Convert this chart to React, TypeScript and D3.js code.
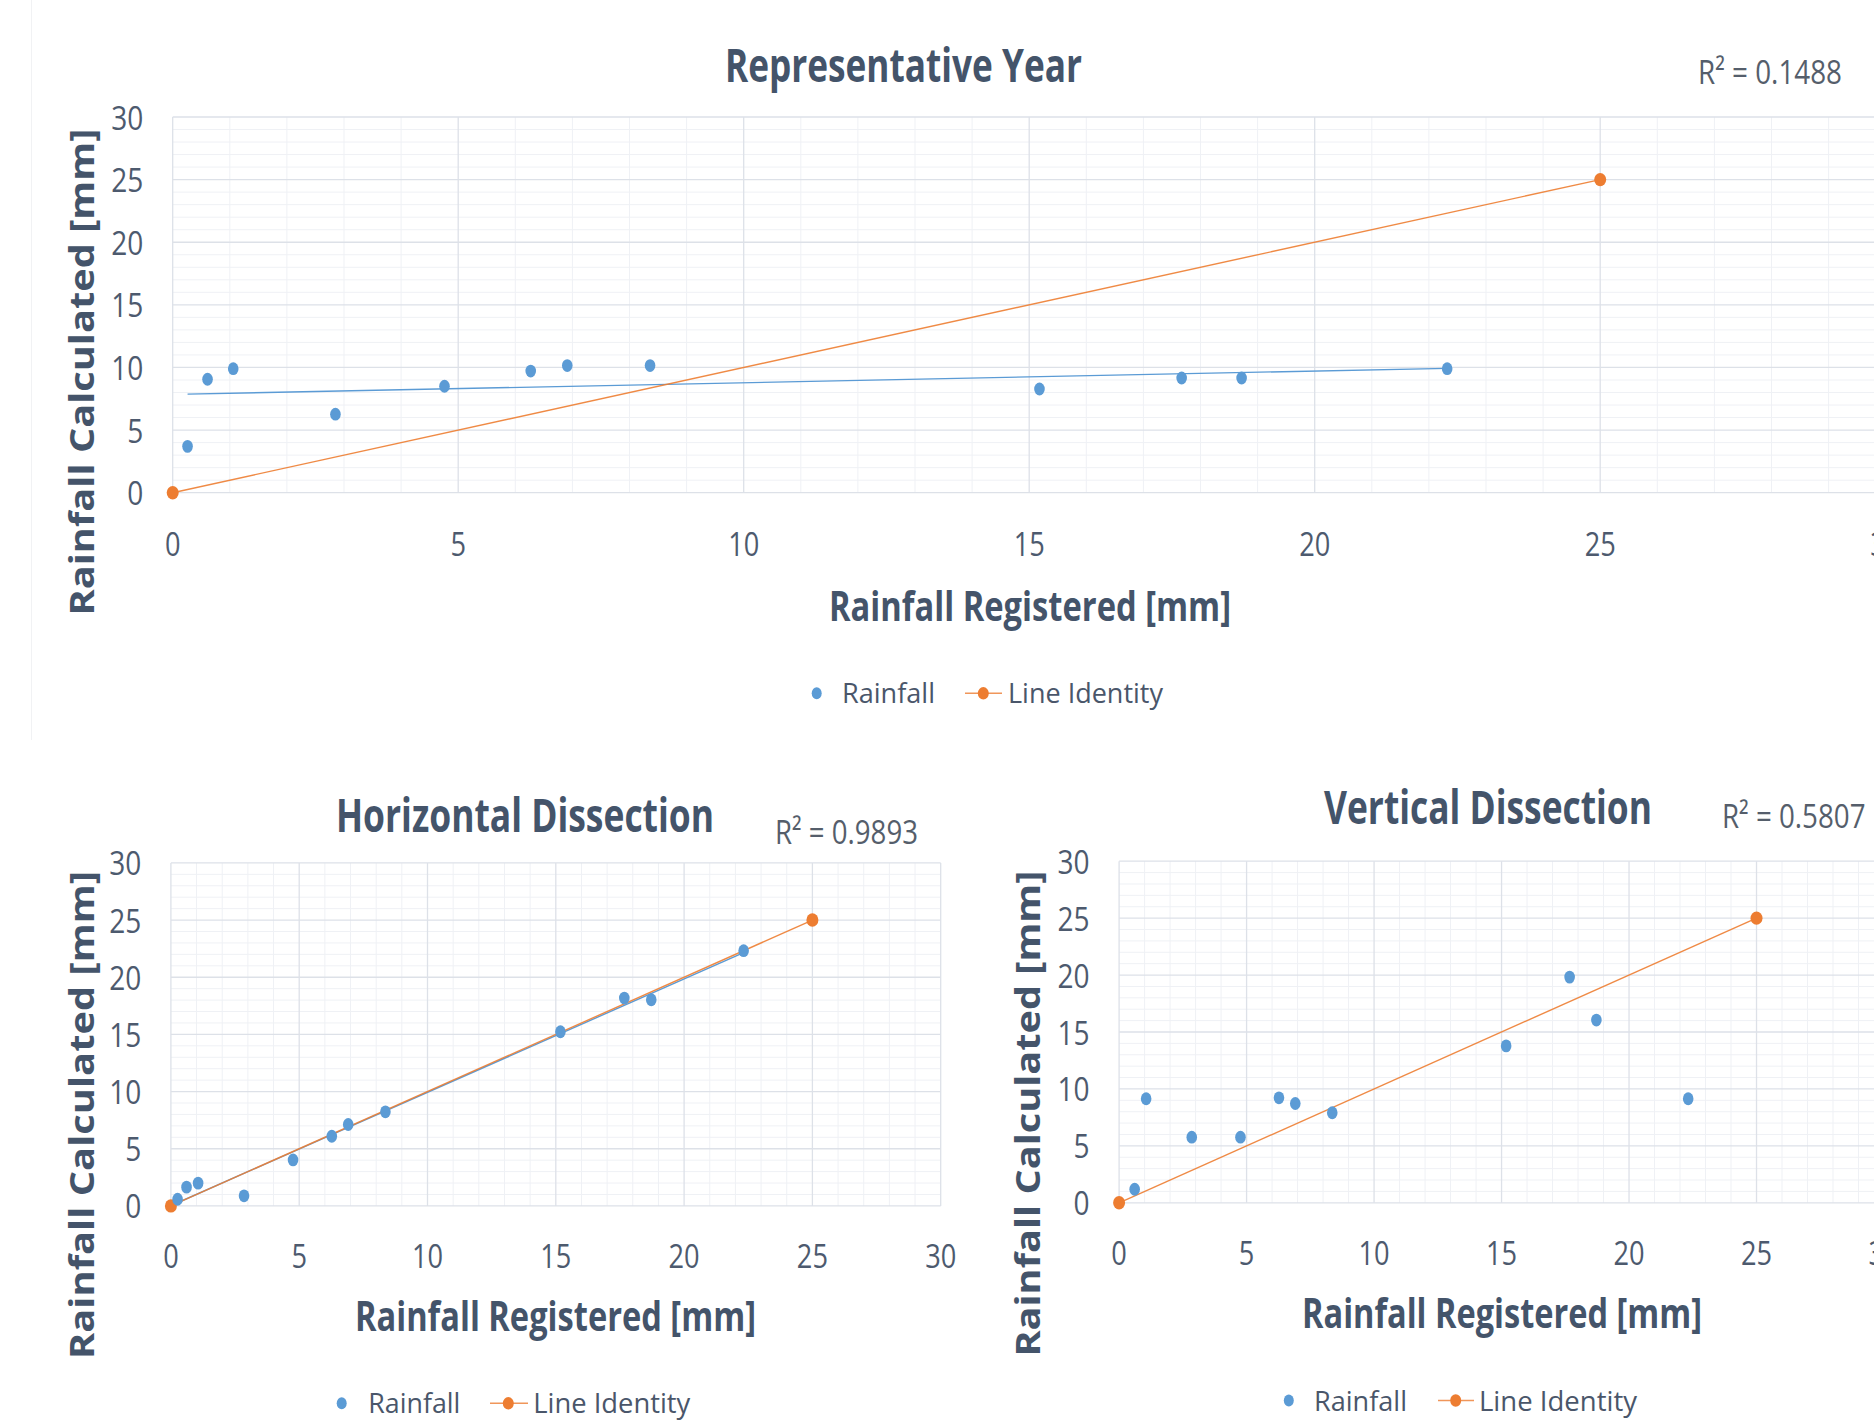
import React from 'react';
import * as d3 from 'd3';

// ---------- data ----------
const registered = [0.26, 0.61, 1.06, 2.85, 4.76, 6.27, 6.91, 8.36, 15.18, 17.67, 18.72, 22.32];
const calcYear = [3.7, 9.06, 9.9, 6.27, 8.5, 9.71, 10.15, 10.15, 8.28, 9.16, 9.16, 9.9];
const calcHorizontal = [0.58, 1.64, 1.99, 0.88, 4.02, 6.09, 7.12, 8.23, 15.23, 18.18, 18.03, 22.32];
const calcVertical: (number | null)[] = [null, 1.19, 9.14, 5.76, 5.76, 9.22, 8.72, 7.91, 13.78, 19.82, 16.05, 9.14];
const identityX = [0, 25];
const identityY = [0, 25];
const axisTicks = [0, 5, 10, 15, 20, 25, 30];
const titles = ['Representative Year', 'Horizontal Dissection', 'Vertical Dissection'];
const r2Labels = ['R² = 0.1488', 'R² = 0.9893', 'R² = 0.5807'];
const showTrend = [true, true, false];
const xAxisTitle = 'Rainfall Registered [mm]';
const yAxisTitle = 'Rainfall Calculated [mm]';
const legendLabels = ['Rainfall', 'Line Identity'];

// ---------- style ----------
const FONT = '"Open Sans", "Noto Sans", sans-serif';
const C = {
  blue: '#5b9bd5',
  orange: '#ed7d31',
  title: '#44546a',
  tick: '#4d5a6e',
  r2: '#555e6b',
  legend: '#4a566a',
  major: '#dde1e8',
  minor: '#eff1f5',
};

// ---------- layouts ----------
const layouts = [
  {
    x0: 172.7, x30: 1885.7, y0: 492.7, y30: 117,
    title: { x: 725, w: 357, y: 82, fs: 47 },
    r2: { x: 1698, w: 144, y: 84, fs: 33 },
    xTickY: 556,
    xTitle: { x: 829, w: 402, y: 621, fs: 42 },
    yTitle: { x: 94, cy: 372, len: 487, fs: 34 },
    legend: { dotX: 816.7, y: 693.3, t1x: 842, t1w: 93, lx1: 965, lx2: 1002, ldot: 983.3, t2x: 1008, t2w: 155, base: 703.3, fs: 28 },
  },
  {
    x0: 170.9, x30: 940.7, y0: 1205.9, y30: 862.9,
    title: { x: 336, w: 378, y: 832, fs: 46 },
    r2: { x: 775, w: 143, y: 844, fs: 33 },
    xTickY: 1268,
    xTitle: { x: 355, w: 401, y: 1331, fs: 42 },
    yTitle: { x: 94, cy: 1115, len: 488, fs: 34 },
    legend: { dotX: 341.7, y: 1403.3, t1x: 368.3, t1w: 92, lx1: 490, lx2: 528, ldot: 508.3, t2x: 533.3, t2w: 157, base: 1412.7, fs: 28 },
  },
  {
    x0: 1119.1, x30: 1884, y0: 1202.8, y30: 861.2,
    title: { x: 1324, w: 328, y: 824.4, fs: 46 },
    r2: { x: 1722, w: 143.5, y: 827.5, fs: 33 },
    xTickY: 1265,
    xTitle: { x: 1302, w: 400, y: 1328, fs: 42 },
    yTitle: { x: 1040, cy: 1113.6, len: 486, fs: 34 },
    legend: { dotX: 1288.8, y: 1400.5, t1x: 1314, t1w: 93, lx1: 1438, lx2: 1474, ldot: 1455.7, t2x: 1479, t2w: 158, base: 1411, fs: 28 },
  },
];

const seriesCalc = [calcYear, calcHorizontal, calcVertical];

function linReg(xs: number[], ys: number[]) {
  const mx = d3.mean(xs) as number;
  const my = d3.mean(ys) as number;
  const sxy = d3.sum(xs, (v, i) => (v - mx) * (ys[i] - my));
  const sxx = d3.sum(xs, (v) => (v - mx) * (v - mx));
  const slope = sxy / sxx;
  return { slope, intercept: my - slope * mx };
}

function Panel({ idx }: { idx: number }) {
  const L = layouts[idx];
  const x = d3.scaleLinear().domain([0, 30]).range([L.x0, L.x30]);
  const y = d3.scaleLinear().domain([0, 30]).range([L.y0, L.y30]);
  const calc = seriesCalc[idx];
  const pts = registered
    .map((r, i) => ({ x: r, y: calc[i] }))
    .filter((p) => p.y !== null && p.y !== undefined) as { x: number; y: number }[];
  const minor = d3.range(0, 31).filter((v) => v % 5 !== 0);
  const line = d3
    .line<[number, number]>()
    .x((d) => x(d[0]))
    .y((d) => y(d[1]));
  const identity: [number, number][] = identityX.map((v, i) => [v, identityY[i]]);

  let trend: [number, number][] | null = null;
  if (showTrend[idx]) {
    const xs = pts.map((p) => p.x);
    const ys = pts.map((p) => p.y);
    const { slope, intercept } = linReg(xs, ys);
    const [mn, mx] = d3.extent(xs) as [number, number];
    trend = [
      [mn, intercept + slope * mn],
      [mx, intercept + slope * mx],
    ];
  }

  const lg = L.legend;
  return (
    <g>
      {/* minor grid */}
      {minor.map((v) => (
        <line key={'mx' + v} x1={x(v)} x2={x(v)} y1={y(0)} y2={y(30)} stroke={C.minor} strokeWidth={1} />
      ))}
      {minor.map((v) => (
        <line key={'my' + v} x1={x(0)} x2={x(30)} y1={y(v)} y2={y(v)} stroke={C.minor} strokeWidth={1} />
      ))}
      {/* major grid */}
      {axisTicks.map((v) => (
        <line key={'Mx' + v} x1={x(v)} x2={x(v)} y1={y(0)} y2={y(30)} stroke={C.major} strokeWidth={1.3} />
      ))}
      {axisTicks.map((v) => (
        <line key={'My' + v} x1={x(0)} x2={x(30)} y1={y(v)} y2={y(v)} stroke={C.major} strokeWidth={1.3} />
      ))}
      {/* trend line */}
      {trend && <path d={line(trend) as string} fill="none" stroke={C.blue} strokeWidth={1.4} />}
      {/* identity line */}
      <path d={line(identity) as string} fill="none" stroke={C.orange} strokeWidth={1.4} opacity={0.9} />
      {identity.map((d, i) => (
        <ellipse key={'o' + i} cx={x(d[0])} cy={y(d[1])} rx={6} ry={6.7} fill={C.orange} />
      ))}
      {pts.map((p, i) => (
        <ellipse key={'b' + i} cx={x(p.x)} cy={y(p.y)} rx={5.3} ry={6.4} fill={C.blue} />
      ))}
      {/* y tick labels */}
      {axisTicks.map((v) => (
        <text
          key={'yt' + v}
          transform={`translate(${x(0) - 29.5},${y(v) + 12.5}) scale(0.85,1)`}
          textAnchor="end"
          fontFamily={FONT}
          fontSize={33}
          fill={C.tick}
        >
          {v}
        </text>
      ))}
      {/* x tick labels */}
      {axisTicks.map((v) => (
        <text
          key={'xt' + v}
          transform={`translate(${x(v)},${L.xTickY}) scale(0.85,1)`}
          textAnchor="middle"
          fontFamily={FONT}
          fontSize={32}
          fill={C.tick}
        >
          {v}
        </text>
      ))}
      {/* title */}
      <text x={L.title.x} y={L.title.y} fontFamily={FONT} fontWeight={700} fontSize={L.title.fs} fill={C.title}
        textLength={L.title.w} lengthAdjust="spacingAndGlyphs">
        {titles[idx]}
      </text>
      {/* R2 */}
      <text x={L.r2.x} y={L.r2.y} fontFamily={FONT} fontSize={L.r2.fs} fill={C.r2}
        textLength={L.r2.w} lengthAdjust="spacingAndGlyphs">
        {r2Labels[idx]}
      </text>
      {/* x axis title */}
      <text x={L.xTitle.x} y={L.xTitle.y} fontFamily={FONT} fontWeight={700} fontSize={L.xTitle.fs} fill={C.title}
        textLength={L.xTitle.w} lengthAdjust="spacingAndGlyphs">
        {xAxisTitle}
      </text>
      {/* y axis title */}
      <text
        transform={`translate(${L.yTitle.x},${L.yTitle.cy}) rotate(-90)`}
        textAnchor="middle"
        fontFamily={FONT}
        fontWeight={700}
        fontSize={L.yTitle.fs}
        fill={C.title}
        textLength={L.yTitle.len}
        lengthAdjust="spacingAndGlyphs"
      >
        {yAxisTitle}
      </text>
      {/* legend */}
      <ellipse cx={lg.dotX} cy={lg.y} rx={5} ry={6} fill={C.blue} />
      <text x={lg.t1x} y={lg.base} fontFamily={FONT} fontSize={lg.fs} fill={C.legend}
        textLength={lg.t1w} lengthAdjust="spacingAndGlyphs">
        {legendLabels[0]}
      </text>
      <line x1={lg.lx1} x2={lg.lx2} y1={lg.y} y2={lg.y} stroke={C.orange} strokeWidth={1.4} opacity={0.8} />
      <ellipse cx={lg.ldot} cy={lg.y} rx={5.5} ry={6.2} fill={C.orange} />
      <text x={lg.t2x} y={lg.base} fontFamily={FONT} fontSize={lg.fs} fill={C.legend}
        textLength={lg.t2w} lengthAdjust="spacingAndGlyphs">
        {legendLabels[1]}
      </text>
    </g>
  );
}

export default function App() {
  return (
    <svg
      width={1874}
      height={1426}
      style={{ position: 'absolute', left: 0, top: 0, background: '#ffffff' }}
    >
      <rect x={0} y={0} width={1874} height={1426} fill="#ffffff" />
      <line x1={31.5} x2={31.5} y1={0} y2={740} stroke="#f1f2f4" strokeWidth={1} />
      {layouts.map((_, i) => (
        <Panel key={i} idx={i} />
      ))}
    </svg>
  );
}
